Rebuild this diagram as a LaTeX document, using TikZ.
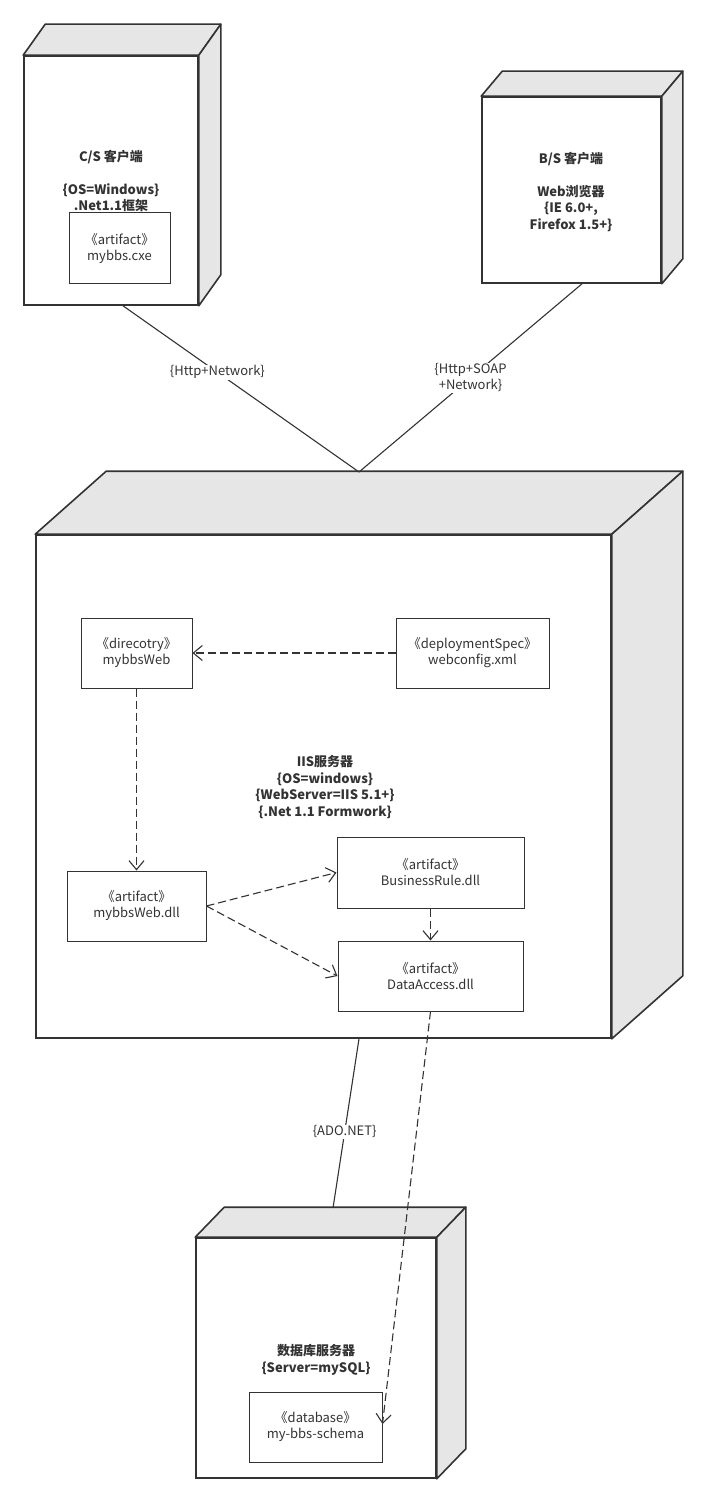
\documentclass[tikz,border=0pt]{standalone}
\usepackage{fontspec}
\setmainfont{Noto Sans CJK SC}
\usetikzlibrary{positioning, arrows.meta, calc}
\definecolor{edgegray}{HTML}{333333}
\definecolor{facegray}{HTML}{E6E6E6}

\begin{document}
\begin{tikzpicture}[x=1pt, y=-1pt,
		front/.style={draw=edgegray, line width=1.6pt, fill=white, inner sep=0pt},
		face/.style={draw=edgegray, line width=1.6pt, fill=facegray, line join=round},
		part/.style={draw=edgegray, line width=1pt, fill=white, inner sep=0pt, align=center, text=edgegray, font=\fontsize{13}{16}\selectfont},
		caption/.style={align=center, text=edgegray, font=\bfseries\fontsize{13}{16.5}\selectfont},
		link/.style={color=edgegray, line width=1.1pt},
		tag/.style={fill=white, inner sep=1pt, align=center, text=edgegray, font=\fontsize{13}{16}\selectfont},
		dep/.style={color=edgegray, line width=1.1pt, dash pattern=on 8pt off 4pt, -{Straight Barb[length=9pt, width=15pt, line width=1.1pt]}}]
	\useasboundingbox (0,0) rectangle (707,1503);
	
	% nodes (front faces)
	\node[front, minimum width=174pt, minimum height=249pt] (cs) at (111,180.5) {};
	\node[front, minimum width=179pt, minimum height=186pt] (bs) at (571.5,190) {};
	\node[front, minimum width=575pt, minimum height=503pt] (iis) at (323.5,786.5) {};
	\node[front, minimum width=240pt, minimum height=240pt] (db) at (316,1358) {};
	
	% top and side faces
	\draw[face] (cs.north west) -- ++(22,-31) -- ($(cs.north east)+(22,-31)$) -- (cs.north east) -- cycle;
	\draw[face] (cs.north east) -- ++(22,-31) -- ($(cs.south east)+(22,-31)$) -- (cs.south east) -- cycle;
	\draw[face] (bs.north west) -- ++(21,-25) -- ($(bs.north east)+(21,-25)$) -- (bs.north east) -- cycle;
	\draw[face] (bs.north east) -- ++(21,-25) -- ($(bs.south east)+(21,-25)$) -- (bs.south east) -- cycle;
	\draw[face] (iis.north west) -- ++(71,-63) -- ($(iis.north east)+(71,-63)$) -- (iis.north east) -- cycle;
	\draw[face] (iis.north east) -- ++(71,-63) -- ($(iis.south east)+(71,-63)$) -- (iis.south east) -- cycle;
	\draw[face] (db.north west) -- ++(29,-30) -- ($(db.north east)+(29,-30)$) -- (db.north east) -- cycle;
	\draw[face] (db.north east) -- ++(29,-30) -- ($(db.south east)+(29,-30)$) -- (db.south east) -- cycle;
	
	% captions
	\node[caption] (cs label) at (111,181) {C/S 客户端\\[16pt]\{OS=Windows\}\\.Net1.1框架};
	\node[caption] (bs label) at (571,192) {B/S 客户端\\[16pt]Web浏览器\\\{IE 6.0+,\\Firefox 1.5+\}};
	\node[caption] (iis label) at (325,787) {IIS服务器\\\{OS=windows\}\\\{WebServer=IIS 5.1+\}\\\{.Net 1.1 Formwork\}};
	\node[caption] (db label) at (316,1360) {数据库服务器\\\{Server=mySQL\}};
	
	% parts
	\node[part, minimum width=101pt, minimum height=71pt] (exe) at (119.5,248.5) {《artifact》\\mybbs.cxe};
	\node[part, minimum width=111pt, minimum height=70pt] (webdir) at (136.5,653) {《direcotry》\\mybbsWeb};
	\node[part, minimum width=153pt, minimum height=70pt] (webconfig) at (472.5,653) {《deploymentSpec》\\webconfig.xml};
	\node[part, minimum width=139pt, minimum height=70pt] (webdll) at (136.5,906) {《artifact》\\mybbsWeb.dll};
	\node[part, minimum width=187pt, minimum height=71pt] (rule) at (430.5,872.5) {《artifact》\\BusinessRule.dll};
	\node[part, minimum width=185pt, minimum height=70pt] (access) at (430.5,976) {《artifact》\\DataAccess.dll};
	\node[part, minimum width=133pt, minimum height=70pt] (schema) at (315.5,1427) {《database》\\my-bbs-schema};
	
	% links
	\coordinate (iis top) at (359,472);
	\coordinate (db top) at (333,1208);
	\coordinate (schema in) at ($(schema.east)+(0,-3)$);
	\path[link]
	($(cs.south)+(12,0)$) edge node[tag, pos=0.4] {\{Http+Network\}} (iis top)
	($(bs.south)+(10.5,0)$) edge node[tag, pos=0.5] {\{Http+SOAP\\+Network\}} (iis top)
	($(iis.south)+(35.5,0)$) edge node[tag, pos=0.55] {\{ADO.NET\}} (db top);
	
	\path[dep]
	(webconfig) edge (webdir)
	(webdir) edge (webdll)
	(webdll.east) edge (rule.west)
	(webdll.east) edge (access.west)
	(rule) edge (access)
	(access.south) edge (schema in);
\end{tikzpicture}
\end{document}
